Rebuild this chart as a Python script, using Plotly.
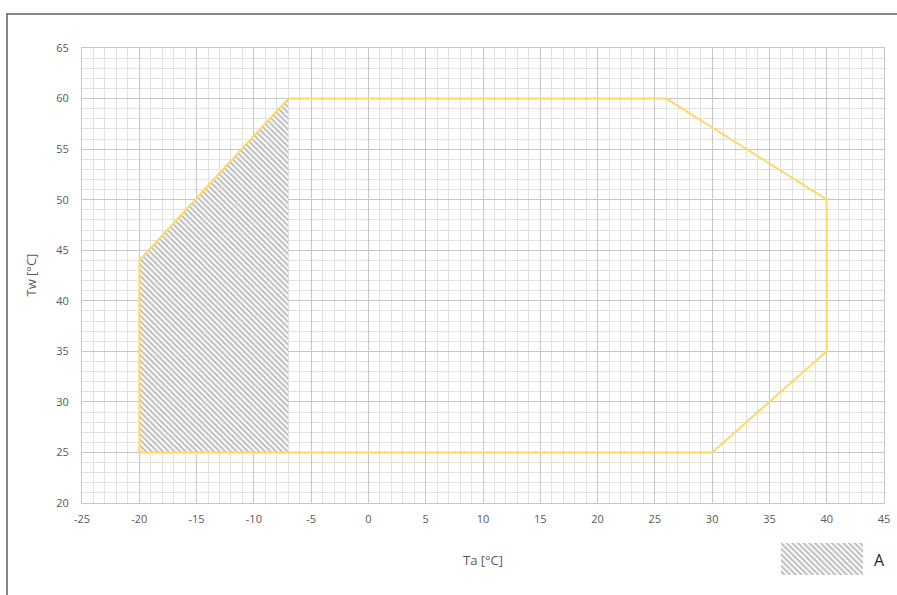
import plotly.graph_objects as go

W, H = 897, 595

# Operating envelope (Ta, Tw)
envelope_ta = [-20, -20, -7, 26, 40, 40, 30, -20]
envelope_tw = [25, 44, 60, 60, 50, 35, 25, 25]

# Hatched zone A
zone_a_ta = [-20, -20, -7, -7, -20]
zone_a_tw = [25, 44, 60, 25, 25]

x_ticks = [-25, -20, -15, -10, -5, 0, 5, 10, 15, 20, 25, 30, 35, 40, 45]
y_ticks = [20, 25, 30, 35, 40, 45, 50, 55, 60, 65]
x_range = [-25, 45]
y_range = [20, 65]
x_title = "Ta [°C]"
y_title = "Tw [°C]"
legend_label = "A"

# pixel layout (page pixels)
ML, MR, MT, MB = 82, 13, 48, 20
PW = W - ML - MR          # paper width
PH = H - MT - MB          # paper height
plot_bottom = 503
leg_x0, leg_x1, leg_y0, leg_y1 = 781, 863, 543, 575


def px_x(p):
    return (p - ML) / PW


def px_y(p):
    return (H - MB - p) / PH


hatch = dict(shape="\\", size=4, solidity=0.5, fgcolor="#7a7a7a", bgcolor="white")
gold = "#FFD966"
font = "Open Sans, Liberation Sans, sans-serif"

fig = go.Figure()
fig.add_trace(go.Scatter(x=zone_a_ta, y=zone_a_tw, mode="lines", fill="toself",
                         fillpattern=hatch, fillcolor="white",
                         line=dict(width=0, color="rgba(0,0,0,0)"),
                         hoverinfo="skip", showlegend=False))
fig.add_trace(go.Scatter(x=envelope_ta, y=envelope_tw, mode="lines",
                         line=dict(color=gold, width=2), showlegend=False))
# legend swatch
fig.add_trace(go.Scatter(x=[0, 1, 1, 0, 0], y=[0, 0, 1, 1, 0], mode="lines",
                         fill="toself", fillpattern=hatch, fillcolor="white",
                         line=dict(width=0, color="rgba(0,0,0,0)"),
                         xaxis="x2", yaxis="y2", showlegend=False, hoverinfo="skip"))

axis_common = dict(showgrid=True, gridcolor="#c6c6c6", gridwidth=1,
                   zeroline=False, showline=True, linecolor="#c6c6c6", linewidth=1,
                   mirror=True, ticks="", tickfont=dict(family=font, size=11, color="#595959"),
                   fixedrange=True, automargin=False, tickmode="array")

fig.update_layout(
    width=W, height=H,
    margin=dict(l=ML, r=MR, t=MT, b=MB, autoexpand=False),
    paper_bgcolor="white", plot_bgcolor="white",
    showlegend=False,
    xaxis=dict(range=x_range, tickvals=x_ticks, ticktext=[str(v) for v in x_ticks],
               domain=[0, 1], anchor="y", ticklabelstandoff=6,
               minor=dict(dtick=1, tick0=-25, showgrid=True, gridcolor="#e0e0e0", gridwidth=1),
               **axis_common),
    yaxis=dict(range=y_range, tickvals=y_ticks, ticktext=[str(v) for v in y_ticks],
               domain=[px_y(plot_bottom), 1], anchor="x", ticklabelstandoff=10,
               minor=dict(dtick=1, tick0=20, showgrid=True, gridcolor="#e0e0e0", gridwidth=1),
               **axis_common),
    xaxis2=dict(range=[0, 1], domain=[px_x(leg_x0), px_x(leg_x1)], anchor="y2",
                visible=False, fixedrange=True),
    yaxis2=dict(range=[0, 1], domain=[px_y(leg_y1), px_y(leg_y0)], anchor="x2",
                visible=False, fixedrange=True),
    annotations=[
        dict(text=x_title, x=px_x((ML + W - MR) / 2), y=px_y(560), xref="paper", yref="paper",
             showarrow=False, font=dict(family=font, size=13, color="#595959"),
             xanchor="center", yanchor="middle"),
        dict(text=y_title, x=px_x(30), y=px_y((MT + plot_bottom) / 2), xref="paper", yref="paper",
             showarrow=False, textangle=-90, font=dict(family=font, size=13, color="#595959"),
             xanchor="center", yanchor="middle"),
        dict(text=legend_label, x=px_x(879), y=px_y(560), xref="paper", yref="paper",
             showarrow=False, font=dict(family=font, size=16, color="#262626"),
             xanchor="center", yanchor="middle"),
    ],
    shapes=[
        dict(type="line", xref="paper", yref="paper", x0=px_x(6.5), x1=px_x(W),
             y0=px_y(14), y1=px_y(14), line=dict(color="#5f5f5f", width=1.5)),
        dict(type="line", xref="paper", yref="paper", x0=px_x(7), x1=px_x(7),
             y0=px_y(13.5), y1=px_y(H), line=dict(color="#5f5f5f", width=1.5)),
    ],
)

fig.write_html("out.html", config={"displayModeBar": False, "staticPlot": True},
               post_script="document.body.style.margin='0';document.body.style.overflow='hidden';")
